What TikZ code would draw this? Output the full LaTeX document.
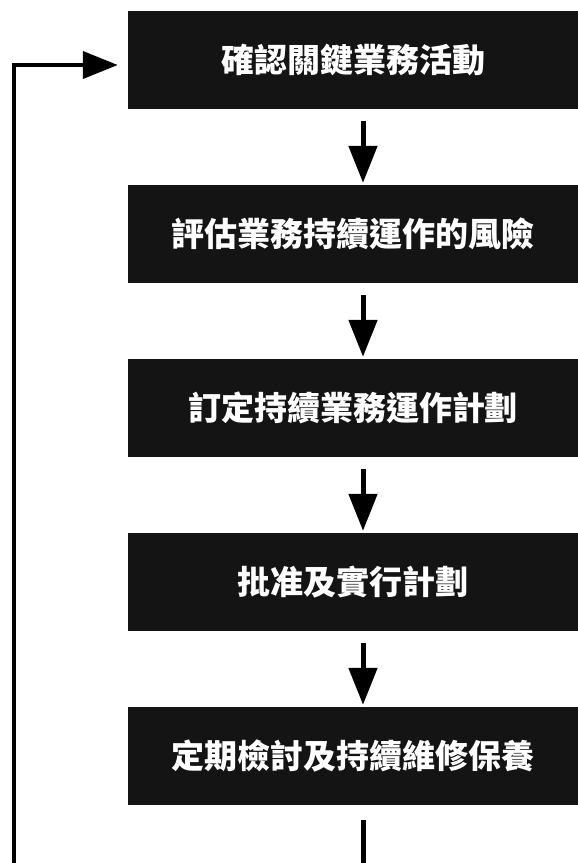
\documentclass[tikz,border=0pt]{standalone}
\usepackage{fontspec}
\newfontfamily\cjk{Noto Sans CJK TC}
\usetikzlibrary{arrows.meta}
\begin{document}
\begin{tikzpicture}[x=1pt,y=-1pt,
  stepbox/.style={fill=black!92, draw=none, minimum width=450pt, minimum height=98pt,
    inner sep=0pt, text=white, font=\cjk\bfseries\fontsize{33pt}{36pt}\selectfont},
  arr/.style={line width=5pt, -{Triangle[length=37pt,width=28pt]}},
  fb/.style={line width=4pt, -{Triangle[length=35pt,width=27pt]}}]
\useasboundingbox (0,0) rectangle (578,863);
\node[stepbox] (b1) at (353,60) {確認關鍵業務活動};
\node[stepbox] (b2) at (353,234) {評估業務持續運作的風險};
\node[stepbox] (b3) at (353,408) {訂定持續業務運作計劃};
\node[stepbox] (b4) at (353,582) {批准及實行計劃};
\node[stepbox] (b5) at (353,756) {定期檢討及持續維修保養};
\foreach \a/\b in {b1/b2,b2/b3,b3/b4,b4/b5}
  \draw[arr] ([xshift=10pt,yshift=-12pt]\a.south) -- ([xshift=10pt,yshift=2pt]\b.north);
\coordinate (bend) at (363,866);
\coordinate (lb) at (14,866);
\draw[line width=5pt] ([xshift=10pt,yshift=-15pt]b5.south) -- (bend);
\draw[fb] (lb) |- ([xshift=-10pt,yshift=-5pt]b1.west);
\end{tikzpicture}
\end{document}
